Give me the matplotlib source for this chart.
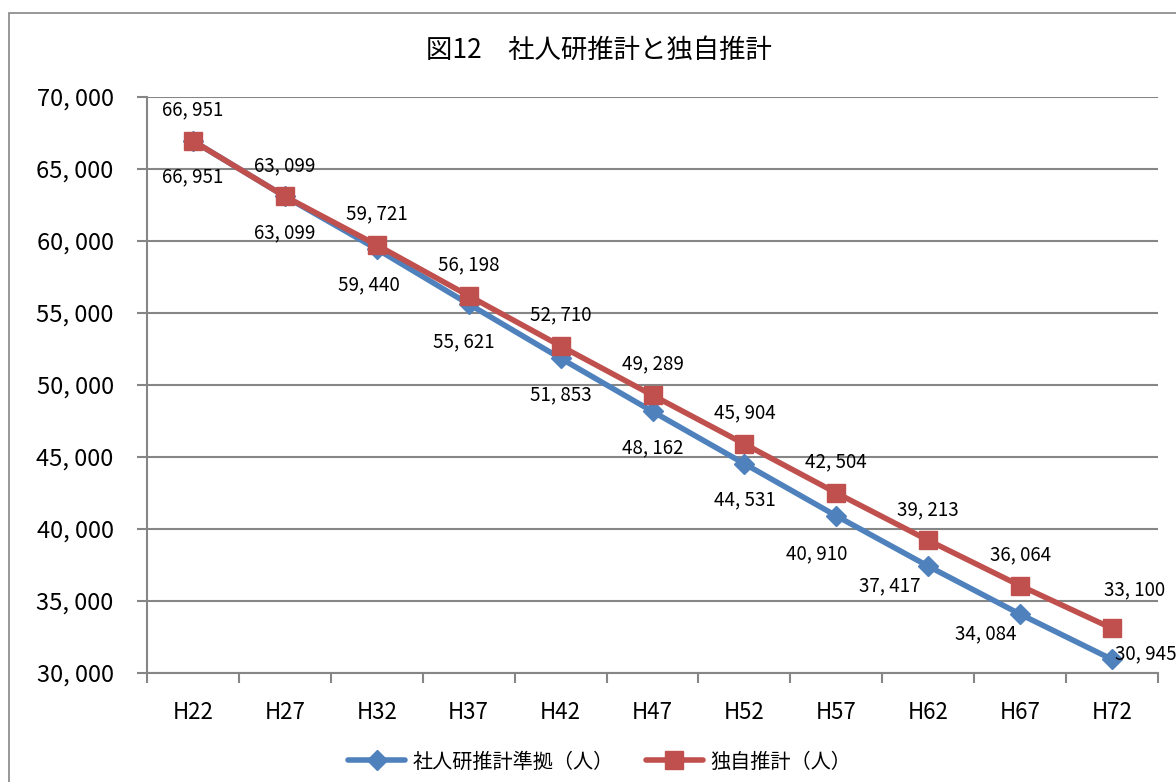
import numpy as np
import matplotlib
matplotlib.use('Agg')
import matplotlib.pyplot as plt
from matplotlib.lines import Line2D
from matplotlib.patches import Rectangle

plt.rcParams['font.family'] = ['Noto Sans CJK JP', 'DejaVu Sans']

# data
years = ['H22', 'H27', 'H32', 'H37', 'H42', 'H47', 'H52', 'H57', 'H62', 'H67', 'H72']
ipss = [66951, 63099, 59440, 55621, 51853, 48162, 44531, 40910, 37417, 34084, 30945]
own = [66951, 63099, 59721, 56198, 52710, 49289, 45904, 42504, 39213, 36064, 33100]
title = '図12\u3000社人研推計と独自推計'
name_ipss = '社人研推計準拠（人）'
name_own = '独自推計（人）'

# label offsets in pixels (dx, dy), dy positive = up
off_ipss = [(0, -36)] * 11
off_ipss[2] = (-8, -36)
off_ipss[3] = (-5, -38)
off_ipss[7] = (-20, -38)
off_ipss[8] = (-38, -20)
off_ipss[9] = (-34, -20)
off_ipss[10] = (34, 6)
off_own = [(0, 31)] * 11
off_own[10] = (23, 39)

blue = '#4F81BD'
red = '#C0504D'
grid_c = '#868686'

def fmt(v):
    return '{:,}'.format(int(v)).replace(',', ', ')

W, H = 1176, 782
fig = plt.figure(figsize=(W / 100, H / 100), dpi=100)
ax = fig.add_axes([147 / W, 109 / H, (1158 - 147) / W, (673 - 97) / H])

x = np.arange(len(years))
ax.plot(x, ipss, color=blue, lw=4, marker='D', ms=10, solid_capstyle='round', zorder=3)
ax.plot(x, own, color=red, lw=4, marker='s', ms=13.5, solid_capstyle='round', zorder=4)

for xi, v, o in zip(x, ipss, off_ipss):
    ax.annotate(fmt(v), (xi, v), xytext=o, textcoords='offset pixels',
                ha='center', va='center', fontsize=13.5, zorder=5, annotation_clip=False)
for xi, v, o in zip(x, own, off_own):
    ax.annotate(fmt(v), (xi, v), xytext=o, textcoords='offset pixels',
                ha='center', va='center', fontsize=13.5, zorder=5, annotation_clip=False)

ax.set_xlim(-0.5, len(years) - 0.5)
ax.set_ylim(30000, 70000)
yt = np.arange(30000, 70001, 5000)
ax.set_yticks(yt)
ax.set_yticklabels([fmt(v) for v in yt], fontsize=17)
ax.set_xticks(x)
ax.set_xticklabels(years, fontsize=16)
ax.set_xticks(np.arange(-0.5, len(years)), minor=True)
ax.tick_params(axis='x', which='major', length=0, pad=20)
ax.tick_params(axis='x', which='minor', length=7, width=1.5, color=grid_c, direction='out')
ax.tick_params(axis='y', length=7, width=1.5, color=grid_c, direction='out', pad=17)

ax.grid(axis='y', color=grid_c, lw=1.5)
ax.set_axisbelow(True)
for s in ['top', 'right']:
    ax.spines[s].set_visible(False)
for s in ['left', 'bottom']:
    ax.spines[s].set_color(grid_c)
    ax.spines[s].set_linewidth(1.5)

fig.text(599 / W, 1 - 50 / H, title, ha='center', va='center', fontsize=19)

handles = [Line2D([], [], color=blue, lw=4, marker='D', ms=10, solid_capstyle='round'),
           Line2D([], [], color=red, lw=4, marker='s', ms=13.5, solid_capstyle='round')]
fig.legend(handles, [name_ipss, name_own], loc='center', bbox_to_anchor=(600 / W, 1 - 762 / H),
           ncol=2, frameon=False, fontsize=14.5, handlelength=2.8, handletextpad=0.4,
           columnspacing=1.6)

# outer chart frame
fig.patches.append(Rectangle((9 / W, -0.1), 1.2, 1 - 13 / H + 0.1, transform=fig.transFigure,
                             fill=False, edgecolor=grid_c, lw=1.2))

fig.savefig('out.png', dpi=100)
